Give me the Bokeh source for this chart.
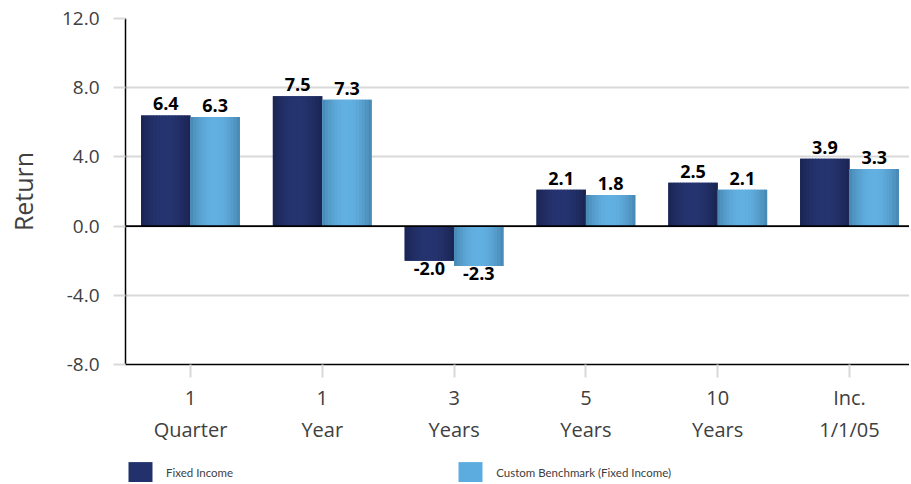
from bokeh.plotting import figure
from bokeh.layouts import column
from bokeh.models import (ColumnDataSource, Range1d, FixedTicker, LinearAxis, Span,
                          LabelSet, Legend, LegendItem, NumeralTickFormatter)
from bokeh.transform import dodge
from bokeh.core.properties import field, value
from bokeh.embed import file_html
from bokeh.resources import INLINE

# ---------------- data ----------------
periods_top = ["1", "1", "3", "5", "10", "Inc."]
periods_bottom = ["Quarter", "Year", "Years", "Years", "Years", "1/1/05"]
fixed_income = [6.4, 7.5, -2.0, 2.1, 2.5, 3.9]
custom_benchmark = [6.3, 7.3, -2.3, 1.8, 2.1, 3.3]
series_names = ["Fixed Income", "Custom Benchmark (Fixed Income)"]
y_ticks = [-8, -4, 0, 4, 8, 12]

# ---------------- style ----------------
FONT = "Open Sans"
TXT = "#404040"
GRID = "#D9D9D9"
NAVY_EDGE, NAVY_MID, NAVY_LEG = (26, 36, 80), (37, 52, 112), "#22306C"
BLUE_EDGE, BLUE_MID, BLUE_LEG = (70, 133, 176), (98, 176, 226), "#5DACE0"
BW = 0.375          # width of one bar in category units
NSTRIPE = 16
W = 909

idx = list(range(len(periods_top)))

p = figure(width=W, height=445, output_backend="svg", toolbar_location=None,
           x_range=Range1d(-0.493, 5.455), y_range=Range1d(-8, 12),
           x_axis_location=None,
           min_border_left=125, min_border_right=0, min_border_top=18,
           min_border_bottom=80)
p.outline_line_color = None
p.background_fill_color = "white"
p.border_fill_color = "white"
p.xgrid.visible = False

src = ColumnDataSource(dict(
    idx=idx,
    fi=fixed_income,
    cb=custom_benchmark,
    fi_txt=["%.1f" % v for v in fixed_income],
    cb_txt=["%.1f" % v for v in custom_benchmark],
    fi_base=["bottom" if v >= 0 else "top" for v in fixed_income],
    cb_base=["bottom" if v >= 0 else "top" for v in custom_benchmark],
    fi_off=[5 if v >= 0 else -1 for v in fixed_income],
    cb_off=[5 if v >= 0 else -1 for v in custom_benchmark],
))


def mix(a, b, w):
    return "#%02x%02x%02x" % tuple(int(round(a[i] + (b[i] - a[i]) * w)) for i in range(3))


def gradient_bars(col, center, edge, mid, base_color):
    p.vbar(x=dodge("idx", center, range=p.x_range), top=col, bottom=0,
           width=BW, source=src, fill_color=base_color, line_color=None)
    for k in range(NSTRIPE):
        t = (k + 0.5) / NSTRIPE
        w = 1 - ((t - 0.5) / 0.5) ** 2
        c = mix(edge, mid, w)
        off = center - BW / 2 + (k + 0.5) * BW / NSTRIPE
        wid = BW / NSTRIPE * (1.0 if k in (0, NSTRIPE - 1) else 1.25)
        p.vbar(x=dodge("idx", off, range=p.x_range), top=col, bottom=0,
               width=wid, source=src, fill_color=c, line_color=None)


gradient_bars("fi", -BW / 2, NAVY_EDGE, NAVY_MID, NAVY_LEG)
gradient_bars("cb", BW / 2, BLUE_EDGE, BLUE_MID, BLUE_LEG)

# zero line
p.add_layout(Span(location=0, dimension="width", line_color="black", line_width=1.6))

# data labels
for col, center in (("fi", -BW / 2), ("cb", BW / 2)):
    p.add_layout(LabelSet(x=dodge("idx", center, range=p.x_range), y=col,
                          text=col + "_txt", source=src, text_align="center",
                          text_baseline=field(col + "_base"),
                          y_offset=field(col + "_off"),
                          text_font=value(FONT), text_font_style="bold",
                          text_font_size="18px", text_color="black"))

# y axis
yax = p.yaxis[0]
yax.ticker = FixedTicker(ticks=y_ticks)
yax.formatter = NumeralTickFormatter(format="0.0")
yax.axis_line_color = "black"
yax.axis_line_width = 1.5
yax.major_tick_in = 0
yax.major_tick_out = 12
yax.major_tick_line_color = GRID
yax.major_tick_line_width = 2
yax.minor_tick_line_color = None
yax.major_label_standoff = 14
yax.major_label_text_font = FONT
yax.major_label_text_font_size = "19px"
yax.major_label_text_color = TXT
yax.axis_label = "Return"
yax.axis_label_text_font = FONT
yax.axis_label_text_font_size = "25px"
yax.axis_label_text_font_style = "normal"
yax.axis_label_text_color = TXT
yax.axis_label_standoff = 19

p.ygrid.ticker = FixedTicker(ticks=y_ticks)
p.ygrid.grid_line_color = GRID
p.ygrid.grid_line_width = 2

# x axes (two rows of labels)
ax1 = LinearAxis(ticker=FixedTicker(ticks=idx),
                 major_label_overrides={i: t for i, t in zip(idx, periods_top)},
                 axis_line_color="black", axis_line_width=1.5,
                 major_tick_in=0, major_tick_out=13,
                 major_tick_line_color=GRID, major_tick_line_width=2,
                 minor_tick_line_color=None, major_label_standoff=6,
                 major_label_text_font=FONT, major_label_text_font_size="20px",
                 major_label_text_color=TXT)
ax2 = LinearAxis(ticker=FixedTicker(ticks=idx),
                 major_label_overrides={i: t for i, t in zip(idx, periods_bottom)},
                 axis_line_color=None, major_tick_line_color=None,
                 major_tick_in=0, major_tick_out=0,
                 minor_tick_line_color=None, major_label_standoff=2,
                 major_label_text_font=FONT, major_label_text_font_size="20px",
                 major_label_text_color=TXT)
p.add_layout(ax1, "below")
p.add_layout(ax2, "below")

# legend strip (separate small figure below the chart)
lf = figure(width=W, height=37, output_backend="svg", toolbar_location=None,
            x_range=Range1d(-0.5, 5.5), y_range=Range1d(100, 101),
            x_axis_location=None, y_axis_location=None,
            min_border=0, min_border_left=0, min_border_right=0,
            min_border_top=0, min_border_bottom=0)
lf.outline_line_color = None
lf.xgrid.visible = False
lf.ygrid.visible = False
lr1 = lf.vbar(x="idx", top="fi", width=0.3, source=src, fill_color=NAVY_LEG, line_color=None)
lr2 = lf.vbar(x="idx", top="cb", width=0.3, source=src, fill_color=BLUE_LEG, line_color=None)
lg = Legend(items=[LegendItem(label=series_names[0], renderers=[lr1]),
                   LegendItem(label=series_names[1], renderers=[lr2])],
            location=(0, -3), orientation="horizontal",
            glyph_width=30, glyph_height=26,
            label_standoff=11, padding=0, margin=0, spacing=222,
            border_line_color=None, background_fill_alpha=0,
            label_text_font="Lato", label_text_font_size="11.5px",
            label_text_color=TXT, label_height=26)
lf.add_layout(lg)

open("out.html", "w").write(file_html(column(p, lf, spacing=0), INLINE))
